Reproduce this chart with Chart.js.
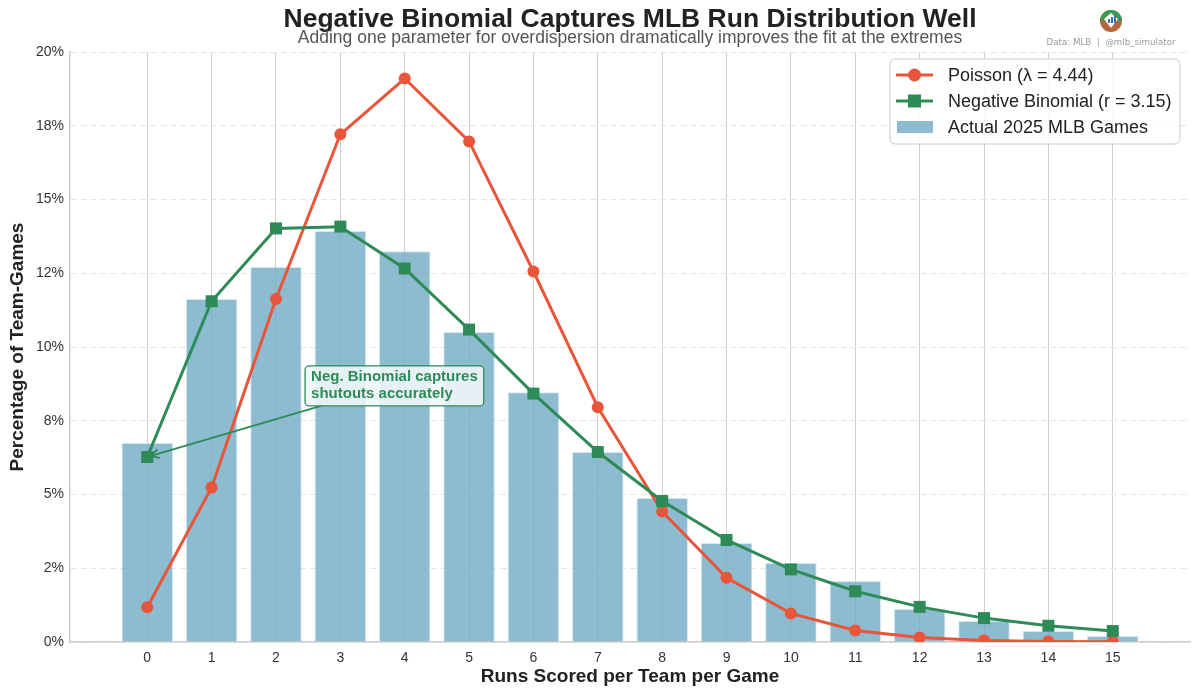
<!DOCTYPE html>
<html><head><meta charset="utf-8">
<script src="https://cdn.jsdelivr.net/npm/chart.js@4.4.1/dist/chart.umd.min.js"></script>
<style>html,body{margin:0;padding:0;background:#fff}#wrap{width:1200px;height:696px}</style>
</head><body><div id="wrap"><canvas id="c" width="1200" height="696"></canvas></div>
<script>
const runs = [0,1,2,3,4,5,6,7,8,9,10,11,12,13,14,15];
const actual = [6.75,11.63,12.71,13.93,13.25,10.51,8.47,6.44,4.88,3.36,2.68,2.07,1.12,0.71,0.37,0.20];
const poisson = [1.18,5.24,11.63,17.21,19.10,16.97,12.56,7.96,4.42,2.18,0.97,0.39,0.15,0.05,0.02,0.005];
const negBinom = [6.27,11.55,14.02,14.08,12.66,10.59,8.42,6.44,4.78,3.46,2.46,1.72,1.19,0.81,0.55,0.37];
const yTickValues = [0,2.5,5,7.5,10,12.5,15,17.5,20];
const yTickLabels = ['0%','2%','5%','8%','10%','12%','15%','18%','20%'];
const seriesNames = ['Poisson (\u03bb = 4.44)','Negative Binomial (r = 3.15)','Actual 2025 MLB Games'];
const titleText = 'Negative Binomial Captures MLB Run Distribution Well';
const subtitleText = 'Adding one parameter for overdispersion dramatically improves the fit at the extremes';
const creditText = 'Data: MLB  |  @mlb_simulator';
const annotationLines = ['Neg. Binomial captures','shutouts accurately'];
const annotationAnchor = {x: 3.84, y: 8.68};

const RED = '#E8553A', GREEN = '#2E8B57', BAR = 'rgba(112,170,196,0.8)';
const FONT = '"Liberation Sans", Arial, sans-serif';

const toXY = arr => arr.map((v,i)=>({x: runs[i], y: v}));

const overlay = {
  id: 'overlay',
  afterDraw(chart) {
    const ctx = chart.ctx, xs = chart.scales.x, ys = chart.scales.y;
    ctx.save();
    ctx.textAlign = 'center'; ctx.textBaseline = 'middle';
    ctx.fillStyle = '#222';
    ctx.font = 'bold 26.5px ' + FONT;
    ctx.fillText(titleText, 630, 20);
    ctx.fillStyle = '#555';
    ctx.font = '17.5px ' + FONT;
    ctx.fillText(subtitleText, 630, 38);
    ctx.fillStyle = '#999';
    ctx.font = '8.7px "DejaVu Sans", sans-serif';
    ctx.fillText(creditText, 1111, 43);
    const lx = 1111, ly = 21, lr = 11;
    ctx.beginPath(); ctx.arc(lx, ly, lr, 0, Math.PI*2); ctx.fillStyle = '#B5653F'; ctx.fill();
    ctx.beginPath(); ctx.arc(lx, ly, lr, Math.PI, 0); ctx.fillStyle = '#3C9A50'; ctx.fill();
    ctx.beginPath(); ctx.moveTo(lx-7, ly-2); ctx.lineTo(lx, ly+7); ctx.lineTo(lx+7, ly-2); ctx.lineTo(lx, ly-8); ctx.closePath();
    ctx.fillStyle = '#fff'; ctx.fill();
    ctx.fillStyle = '#3a6fb0';
    ctx.fillRect(lx-3, ly-2, 2, 4); ctx.fillRect(lx, ly-4, 2, 6); ctx.fillRect(lx+3, ly-6, 2, 8);

    const ax = xs.getPixelForValue(annotationAnchor.x), ay = ys.getPixelForValue(annotationAnchor.y);
    ctx.font = 'bold 15px ' + FONT;
    const w = Math.max(...annotationLines.map(t=>ctx.measureText(t).width)) + 12;
    const h = 40;
    const bx = ax - w/2, by = ay - h/2;
    const tipX = xs.getPixelForValue(0), tipY = ys.getPixelForValue(negBinom[0]);
    const sx = bx + 16, sy = by + h;
    const ang = Math.atan2(tipY - sy, tipX - sx);
    const ex = tipX - Math.cos(ang)*3, ey = tipY - Math.sin(ang)*3;
    ctx.strokeStyle = GREEN; ctx.lineWidth = 1.8;
    ctx.beginPath(); ctx.moveTo(sx, sy); ctx.lineTo(ex, ey); ctx.stroke();
    ctx.beginPath();
    ctx.moveTo(ex - Math.cos(ang-0.45)*10, ey - Math.sin(ang-0.45)*10);
    ctx.lineTo(ex, ey);
    ctx.lineTo(ex - Math.cos(ang+0.45)*10, ey - Math.sin(ang+0.45)*10);
    ctx.stroke();
    ctx.beginPath();
    ctx.roundRect(bx, by, w, h, 4);
    ctx.fillStyle = 'rgba(240,247,250,0.9)'; ctx.fill();
    ctx.strokeStyle = GREEN; ctx.lineWidth = 1.3; ctx.stroke();
    ctx.fillStyle = GREEN; ctx.textAlign = 'left'; ctx.textBaseline = 'middle';
    ctx.fillText(annotationLines[0], bx + 6, by + 11);
    ctx.fillText(annotationLines[1], bx + 6, by + 28);

    const L = {x: 890, y: 59, w: 290, h: 85};
    ctx.beginPath(); ctx.roundRect(L.x, L.y, L.w, L.h, 5);
    ctx.fillStyle = 'rgba(255,255,255,0.85)'; ctx.fill();
    ctx.strokeStyle = '#cccccc'; ctx.lineWidth = 1; ctx.stroke();
    const rows = [75, 101, 127];
    ctx.font = '18px ' + FONT; ctx.textBaseline = 'middle'; ctx.textAlign = 'left';
    ctx.strokeStyle = RED; ctx.lineWidth = 3;
    ctx.beginPath(); ctx.moveTo(896, rows[0]); ctx.lineTo(933, rows[0]); ctx.stroke();
    ctx.beginPath(); ctx.arc(914.5, rows[0], 6.5, 0, Math.PI*2); ctx.fillStyle = RED; ctx.fill();
    ctx.strokeStyle = GREEN;
    ctx.beginPath(); ctx.moveTo(896, rows[1]); ctx.lineTo(933, rows[1]); ctx.stroke();
    ctx.fillStyle = GREEN; ctx.fillRect(908, rows[1]-6.5, 13, 13);
    ctx.fillStyle = BAR; ctx.fillRect(897, rows[2]-6, 36, 12);
    ctx.fillStyle = '#222';
    seriesNames.forEach((n,i)=>ctx.fillText(n, 948, rows[i]+1));
    ctx.restore();
  }
};

new Chart(document.getElementById('c'), {
  type: 'bar',
  data: {
    datasets: [
      {type:'line', label: seriesNames[0], data: toXY(poisson), borderColor: RED, backgroundColor: RED,
       borderWidth: 3, pointRadius: 6, pointHoverRadius: 6, pointStyle: 'circle', pointBorderWidth: 0, order: 2, tension: 0},
      {type:'line', label: seriesNames[1], data: toXY(negBinom), borderColor: GREEN, backgroundColor: GREEN,
       borderWidth: 3, pointRadius: 8.5, pointHoverRadius: 8.5, pointStyle: 'rect', pointBorderWidth: 0, order: 1, tension: 0},
      {type:'bar', label: seriesNames[2], data: toXY(actual), backgroundColor: BAR,
       borderColor: 'rgba(205,228,238,0.9)', borderWidth: 1,
       barPercentage: 0.8, categoryPercentage: 1.0, order: 3}
    ]
  },
  options: {
    responsive: false, animation: false, devicePixelRatio: 1,
    layout: {padding: {top: 52, right: 10, left: 0, bottom: 0}},
    plugins: {legend: {display: false}, tooltip: {enabled: false}},
    scales: {
      x: {
        type: 'linear', min: -1.2, max: 16.2, offset: false,
        afterBuildTicks: s => { s.ticks = runs.map(v=>({value: v})); },
        afterFit: s => { s.height = 54; },
        ticks: {stepSize: 1, includeBounds: false, font: {size: 14, family: FONT}, color: '#333', padding: 8,
                callback: v => String(v), maxRotation: 0, autoSkip: false},
        grid: {color: '#cfcfcf', lineWidth: 1, drawTicks: false, offset: false},
        border: {color: '#cccccc', width: 1.5},
        title: {display: true, text: 'Runs Scored per Team per Game', font: {size: 19, weight: 'bold', family: FONT}, color: '#222', padding: {top: 0, bottom: 8}}
      },
      y: {
        min: 0, max: 20,
        afterBuildTicks: s => { s.ticks = yTickValues.map(v=>({value: v})); },
        afterFit: s => { s.width = 70; },
        ticks: {font: {size: 14, family: FONT}, color: '#333', padding: 6,
                callback: (v, i) => yTickLabels[i]},
        grid: {color: '#e4e4e4', lineWidth: 1, drawTicks: false},
        border: {color: '#cccccc', width: 1.5, dash: [6,4]},
        title: {display: true, text: 'Percentage of Team-Games', font: {size: 19, weight: 'bold', family: FONT}, color: '#222', padding: {top: 6, bottom: 0}}
      }
    }
  },
  plugins: [overlay]
});
</script></body></html>
